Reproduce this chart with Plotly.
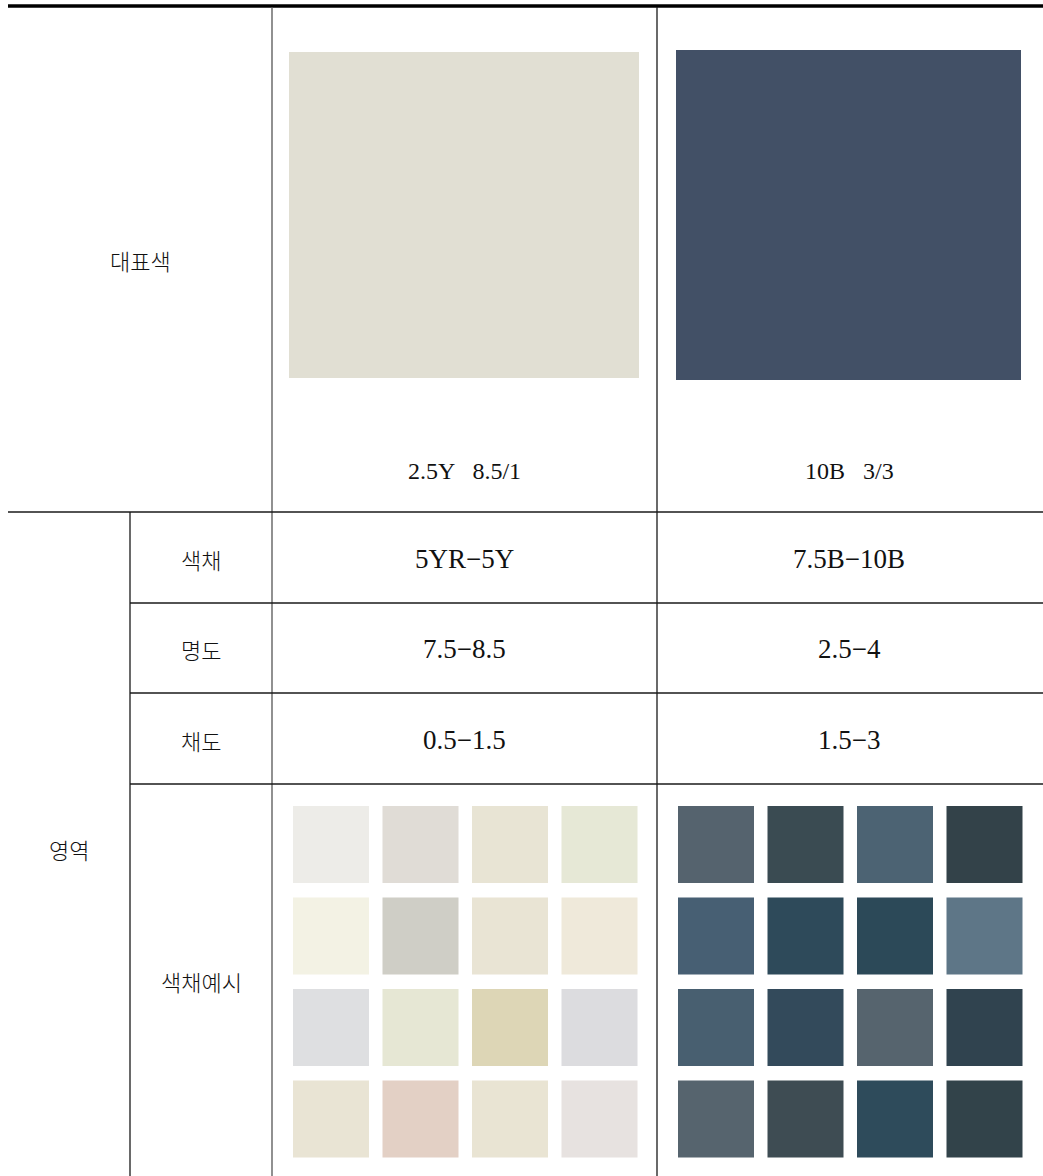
import plotly.graph_objects as go

# table text
header_label = "대표색"
group_label = "영역"
row_labels = ["색채", "명도", "채도", "색채예시"]
rep_codes = ["2.5Y   8.5/1", "10B   3/3"]
rep_colors = ["#E1DFD3", "#425066"]
hue_ranges = ["5YR−5Y", "7.5B−10B"]
value_ranges = ["7.5−8.5", "2.5−4"]
chroma_ranges = ["0.5−1.5", "1.5−3"]

# example swatches, 4x4 per column, row-major
light_examples = [
    "#EDECE8", "#E0DCD6", "#E8E4D4", "#E6E8D6",
    "#F3F2E4", "#CFCEC6", "#E9E4D4", "#EFE9DA",
    "#DEDFE1", "#E6E7D4", "#DDD6B6", "#DCDCDF",
    "#E9E4D4", "#E3D0C5", "#E9E4D3", "#E7E2E0",
]
dark_examples = [
    "#55636E", "#3A4B52", "#4C6373", "#334249",
    "#475F73", "#2E4A5A", "#2C4958", "#5E7687",
    "#485F70", "#334A5B", "#56646E", "#30434F",
    "#56646E", "#3E4C53", "#2E4B5B", "#32434A",
]

W, H = 1043, 1176
LEFT = 8
X_SUB = 130      # inner divider in 영역 group
X_C1 = 272       # right edge of label column
X_C2 = 657       # divider between the two colour columns
Y_TOP = 7
Y_HEAD = 512
row_edges = [512, 603, 693, 784, H]

fig = go.Figure()
shapes = []
annos = []

KFONT = "Noto Sans CJK KR"
LFONT = "Liberation Serif, Noto Sans CJK KR"


def line(x0, y0, x1, y1, w=1.3, c="#1a1a1a"):
    shapes.append(dict(type="line", xref="x", yref="y", x0=x0, y0=y0, x1=x1, y1=y1,
                       line=dict(color=c, width=w)))


def text(x, y, s, size, fam, weight=None):
    f = dict(family=fam, size=size, color="#111")
    if weight:
        f["weight"] = weight
    annos.append(dict(x=x, y=y, xref="x", yref="y", text=s, showarrow=False,
                      font=f, xanchor="center", yanchor="middle"))


# grid lines
line(LEFT, Y_TOP - 1, W, Y_TOP - 1, w=3.5, c="#000")
line(X_C1, Y_TOP, X_C1, H, c="#555")
line(X_C2, Y_TOP, X_C2, H)
line(LEFT, Y_HEAD, W, Y_HEAD)
line(X_SUB, Y_HEAD, X_SUB, H)
for y in row_edges[1:-1]:
    line(X_SUB, y, W, y)

# header labels
text((LEFT + X_C1) / 2, 260, header_label, 22, KFONT, 300)
text((LEFT + X_SUB) / 2, 849, group_label, 22, KFONT, 300)
for i, lab in enumerate(row_labels):
    text((X_SUB + X_C1) / 2, (row_edges[i] + row_edges[i + 1]) / 2 + 1, lab, 22, KFONT, 300)

col_centers = [(X_C1 + X_C2) / 2 - 0.5, (X_C2 + W) / 2 - 1]

# representative colour swatches + codes
rep_boxes = [(289, 52, 639, 378), (676, 50, 1021, 380)]
for (x0, y0, x1, y1), c in zip(rep_boxes, rep_colors):
    shapes.append(dict(type="rect", xref="x", yref="y", x0=x0, y0=y0, x1=x1, y1=y1,
                       fillcolor=c, line=dict(width=0)))
for cx, code in zip(col_centers, rep_codes):
    text(cx, 471, code, 24, LFONT)

# range rows
for r, vals in enumerate([hue_ranges, value_ranges, chroma_ranges]):
    cy = (row_edges[r] + row_edges[r + 1]) / 2 + 1
    for cx, v in zip(col_centers, vals):
        text(cx, cy, v, 27, LFONT)

# example grids
grid_x0 = [293, 678]
sw = 76
step_x = 89.5
grid_y0 = 806
sh = 77
step_y = 91.5
for gx, colors in zip(grid_x0, [light_examples, dark_examples]):
    for k, c in enumerate(colors):
        r, col = divmod(k, 4)
        x0 = gx + col * step_x
        y0 = grid_y0 + r * step_y
        shapes.append(dict(type="rect", xref="x", yref="y", x0=x0, y0=y0,
                           x1=x0 + sw, y1=y0 + sh, fillcolor=c, line=dict(width=0)))

fig.update_layout(
    width=W, height=H,
    margin=dict(l=0, r=0, t=0, b=0),
    paper_bgcolor="white", plot_bgcolor="white",
    xaxis=dict(range=[0, W], visible=False, fixedrange=True),
    yaxis=dict(range=[H, 0], visible=False, fixedrange=True),
    shapes=shapes, annotations=annos,
    showlegend=False,
)
# drop the default page margin so the figure sits at the window origin
fig.write_html("out.html", config={"displayModeBar": False},
               post_script="document.body.style.margin='0';document.body.style.overflow='hidden';")
